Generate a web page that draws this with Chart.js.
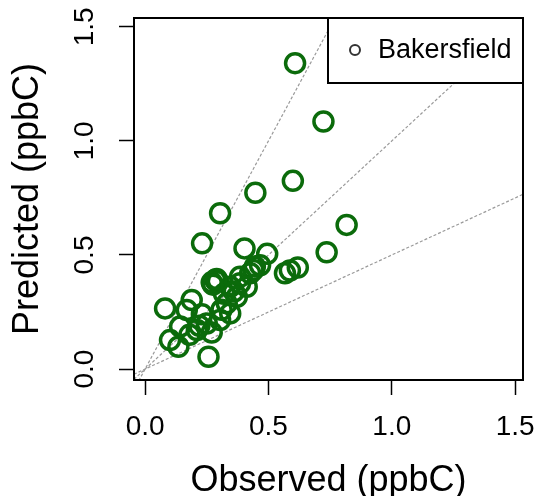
<!DOCTYPE html>
<html lang="en">
<head>
    <meta charset="UTF-8">
    <title>Observed vs Predicted - Bakersfield</title>
    <script src="https://cdn.jsdelivr.net/npm/chart.js"></script>
    <style>
        html, body { margin: 0; padding: 0; background: #fff; }
        #wrap { width: 539px; height: 496px; }
    </style>
</head>
<body>
    <div id="wrap"><canvas id="scatter"></canvas></div>
    <script>
        // values
        const siteName = 'Bakersfield';
        const observed = [0.608, 0.723, 0.599, 0.447, 0.304, 0.231, 0.817, 0.736, 0.403, 0.495,
                          0.619, 0.567, 0.587, 0.284, 0.270, 0.295, 0.466, 0.439, 0.426, 0.385,
                          0.345, 0.385, 0.412, 0.372, 0.331, 0.345, 0.304, 0.250, 0.210, 0.142,
                          0.101, 0.135, 0.180, 0.081, 0.189, 0.169, 0.257, 0.270, 0.230, 0.320,
                          0.290, 0.360, 0.310, 0.220, 0.445, 0.275];
        const predicted = [1.341, 1.085, 0.825, 0.773, 0.683, 0.551, 0.632, 0.512, 0.529, 0.505,
                           0.445, 0.420, 0.432, 0.390, 0.380, 0.385, 0.455, 0.434, 0.420, 0.405,
                           0.361, 0.376, 0.361, 0.317, 0.288, 0.244, 0.215, 0.200, 0.171, 0.186,
                           0.127, 0.098, 0.150, 0.266, 0.303, 0.259, 0.054, 0.160, 0.240, 0.330,
                           0.395, 0.340, 0.260, 0.190, 0.450, 0.370];
        const xTicks = [0, 0.5, 1.0, 1.5];
        const yTicks = [0, 0.5, 1.0, 1.5];
        const refSlopes = [2, 1, 0.5];   // 2:1, 1:1, 1:2 lines
        const xLim = [-0.045, 1.532];
        const yLim = [-0.048, 1.539];

        const FONT = '"Liberation Sans", Arial, sans-serif';

        const points = observed.map((x, i) => ({ x: x, y: predicted[i] }));

        const refSets = refSlopes.map(s => ({
            type: 'line',
            data: [{ x: xLim[0], y: s * xLim[0] }, { x: xLim[1], y: s * xLim[1] }],
            borderColor: '#9a9a9a',
            borderWidth: 1.2,
            borderDash: [3, 2],
            pointRadius: 0,
            fill: false,
            order: 2
        }));

        // box around plot + tick labels (R style) + legend
        const frame = {
            id: 'frame',
            afterDraw(chart) {
                const ctx = chart.ctx;
                const a = chart.chartArea;
                ctx.save();
                ctx.strokeStyle = '#000';
                ctx.lineWidth = 2;
                ctx.strokeRect(a.left, a.top, a.right - a.left, a.bottom - a.top);

                ctx.fillStyle = '#000';
                ctx.font = '28px ' + FONT;
                ctx.textAlign = 'center';
                ctx.textBaseline = 'middle';

                // x tick labels
                const xs = chart.scales.x;
                xTicks.forEach(v => {
                    ctx.fillText(v.toFixed(1), xs.getPixelForValue(v), 427);
                });

                // y tick labels, rotated
                const ys = chart.scales.y;
                yTicks.forEach(v => {
                    const py = ys.getPixelForValue(v);
                    ctx.save();
                    ctx.translate(85, py);
                    ctx.rotate(-Math.PI / 2);
                    ctx.fillText(v.toFixed(1), 0, 0);
                    ctx.restore();
                });

                // legend
                const lw = 195, lh = 65;
                const lx = a.right - lw, ly = a.top;
                ctx.fillStyle = '#fff';
                ctx.fillRect(lx, ly, lw, lh);
                ctx.strokeStyle = '#000';
                ctx.lineWidth = 2;
                ctx.strokeRect(lx, ly, lw, lh);
                ctx.beginPath();
                ctx.arc(lx + 27, ly + 32, 5, 0, Math.PI * 2);
                ctx.strokeStyle = '#333';
                ctx.lineWidth = 2;
                ctx.stroke();
                ctx.fillStyle = '#000';
                ctx.font = '27px ' + FONT;
                ctx.textAlign = 'left';
                ctx.fillText(siteName, lx + 50, ly + 33);
                ctx.restore();
            }
        };

        new Chart(document.getElementById('scatter'), {
            type: 'scatter',
            data: {
                datasets: [{
                    label: siteName,
                    data: points,
                    borderColor: '#0b6b0b',
                    backgroundColor: 'rgba(0,0,0,0)',
                    borderWidth: 3.5,
                    pointRadius: 9.5,
                    order: 1
                }].concat(refSets)
            },
            options: {
                responsive: true,
                maintainAspectRatio: false,
                animation: false,
                layout: { padding: { top: 18, right: 16, left: 0, bottom: 0 } },
                plugins: {
                    legend: { display: false },
                    tooltip: { enabled: false }
                },
                scales: {
                    x: {
                        type: 'linear',
                        min: xLim[0],
                        max: xLim[1],
                        afterBuildTicks: s => { s.ticks = xTicks.map(v => ({ value: v })); },
                        afterFit: s => { s.height = 116; },
                        grid: { drawOnChartArea: false, drawTicks: true, tickLength: 15, tickWidth: 1.5, tickColor: '#000' },
                        border: { display: false },
                        ticks: { display: false },
                        title: {
                            display: true,
                            text: 'Observed (ppbC)',
                            color: '#000',
                            font: { family: FONT, size: 36, lineHeight: 1 },
                            padding: { top: 0, bottom: -3 }
                        }
                    },
                    y: {
                        type: 'linear',
                        min: yLim[0],
                        max: yLim[1],
                        afterBuildTicks: s => { s.ticks = yTicks.map(v => ({ value: v })); },
                        afterFit: s => { s.width = 134; },
                        grid: { drawOnChartArea: false, drawTicks: true, tickLength: 15, tickWidth: 1.5, tickColor: '#000' },
                        border: { display: false },
                        ticks: { display: false },
                        title: {
                            display: true,
                            text: 'Predicted (ppbC)',
                            color: '#000',
                            font: { family: FONT, size: 36, lineHeight: 1 },
                            padding: { top: 10, bottom: 0 }
                        }
                    }
                }
            },
            plugins: [frame]
        });
    </script>
</body>
</html>
